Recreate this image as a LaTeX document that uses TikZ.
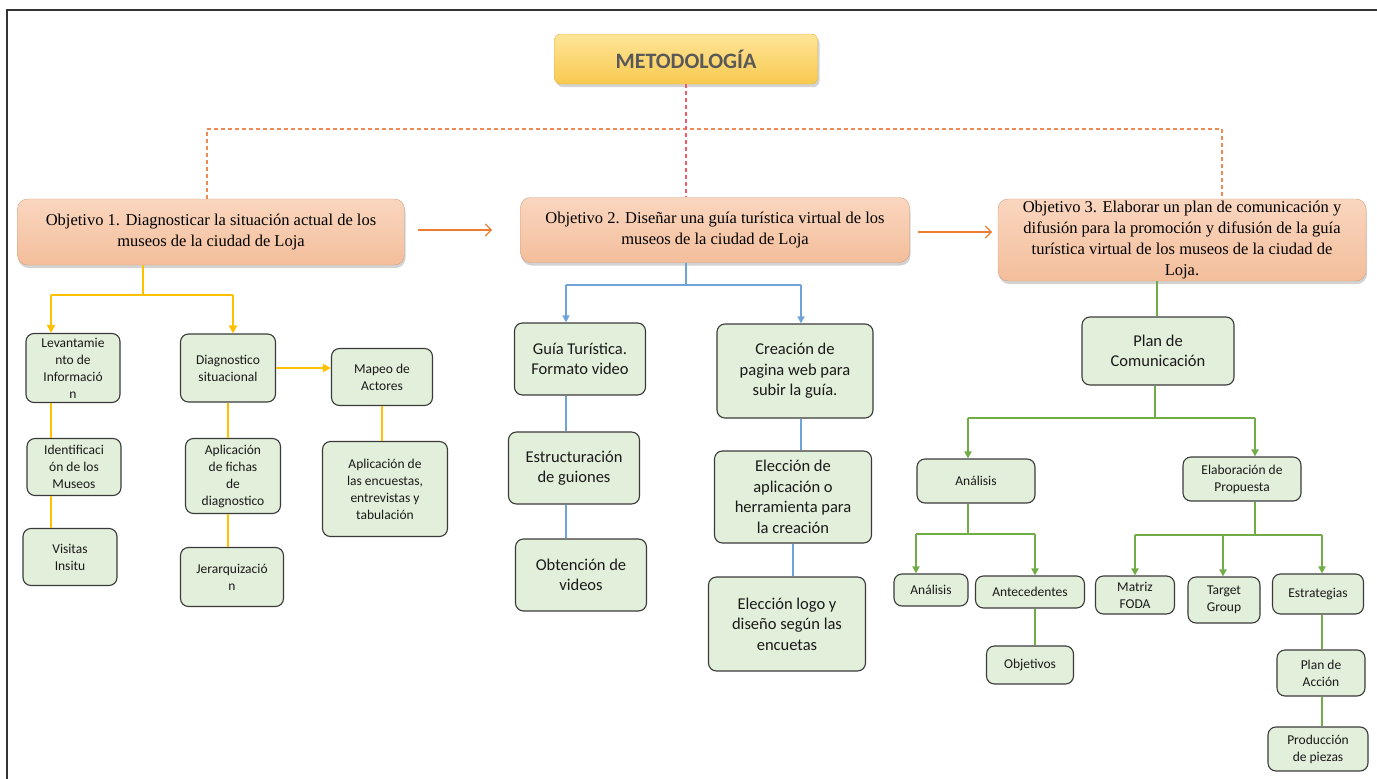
\documentclass[tikz,border=0pt]{standalone}
\usepackage{fontspec}
\setmainfont{Liberation Serif}
\newfontfamily\calfont{Carlito}
\usetikzlibrary{arrows.meta,shadows}
\definecolor{gfill}{HTML}{E2EFDA}
\definecolor{bordc}{HTML}{3A3A3A}
\definecolor{txtc}{HTML}{1A1A1A}
\definecolor{yelc}{HTML}{FFC000}
\definecolor{bluc}{HTML}{6FA3D8}
\definecolor{grnc}{HTML}{70AD47}
\definecolor{orac}{HTML}{ED7D31}
\definecolor{dashc}{HTML}{F08A55}
\definecolor{redc}{HTML}{F65A64}
\definecolor{objtop}{HTML}{FAD6BF}
\definecolor{objbot}{HTML}{F3BE9B}
\definecolor{titop}{HTML}{FFE599}
\definecolor{tibot}{HTML}{F8C94F}
\begin{document}
\begin{tikzpicture}[x=1pt,y=-1pt,
  gbox/.style={draw=bordc, line width=1.1pt, fill=gfill, rounded corners=8pt, align=center, inner sep=0pt, text=txtc},
  sm/.style={font=\calfont\fontsize{13.5}{17}\selectfont},
  md/.style={font=\calfont\fontsize{16.5}{20.5}\selectfont},
  objbox/.style={rounded corners=10pt, top color=objtop, bottom color=objbot, draw=objbot!85!black, line width=0.4pt,
    drop shadow={opacity=0.35,shadow xshift=1pt,shadow yshift=-3pt}, align=center, inner sep=0pt,
    font=\fontsize{16.5}{21}\selectfont},
  yl/.style={draw=yelc, line width=2pt},
  bl/.style={draw=bluc, line width=1.5pt},
  gl/.style={draw=grnc, line width=2pt},
  dl/.style={line width=1.1pt, dash pattern=on 4pt off 3pt},
  tipy/.style={-{Triangle[length=8pt,width=8pt]}},
  tipb/.style={-{Triangle[length=7pt,width=7pt]}},
]
\useasboundingbox (0,0) rectangle (1377,779);
\draw[line width=1.2pt, color=black!80] (7,779) -- (7,10) -- (1377,10);

% title
\node[rounded corners=6pt, top color=titop, bottom color=tibot, draw=tibot!90!black, line width=0.4pt,
  drop shadow={opacity=0.35,shadow xshift=2pt,shadow yshift=-3pt},
  minimum width=263, minimum height=50, inner sep=0pt, text=black!65,
  font=\calfont\bfseries\fontsize{22}{24}\selectfont] (title) at (686,59) {METODOLOGÍA};

% objectives
\node[objbox, minimum width=387, minimum height=66] (obj1) at (211,232)
  {Objetivo 1. Diagnosticar la situación actual de los\\museos de la ciudad de Loja};
\node[objbox, minimum width=389, minimum height=65] (obj2) at (715,230)
  {Objetivo 2. Diseñar una guía turística virtual de los\\museos de la ciudad de Loja};
\node[objbox, minimum width=368, minimum height=82] (obj3) at (1182,240)
  {Objetivo 3. Elaborar un plan de comunicación y\\difusión para la promoción y difusión de la guía\\turística virtual de los museos de la ciudad de\\Loja.};

% dashed links
\coordinate (h1) at (207,129);
\coordinate (h3) at (1222,129);
\draw[draw=dashc, dl] (obj1.north -| h1) -- (h1) -- (h3) -- (obj3.north -| h3);
\draw[draw=redc, dl] (title.south) -- (obj2.north -| title.south);

% objective arrows
\coordinate (a1s) at (418,230);
\coordinate (a1e) at (492,230);
\coordinate (a2s) at (918,232);
\coordinate (a2e) at (992,232);
\draw[draw=orac, line width=1.1pt, -{Straight Barb[length=6pt,width=12pt]}] (a1s) -- (a1e);
\draw[draw=orac, line width=1.1pt, -{Straight Barb[length=6pt,width=12pt]}] (a2s) -- (a2e);

% ---------- objective 1 subtree ----------
\node[gbox, sm, minimum width=94, minimum height=69] (lev) at (73,368) {Levantamie\\nto de\\Informació\\n};
\node[gbox, sm, minimum width=94, minimum height=57] (ident) at (74,467) {Identificaci\\ón de los\\Museos};
\node[gbox, sm, minimum width=94, minimum height=57] (visit) at (70,557) {Visitas\\Insitu};
\node[gbox, sm, minimum width=95, minimum height=68] (diag) at (228,368) {Diagnostico\\situacional};
\node[gbox, sm, minimum width=95, minimum height=75] (aplic) at (233,476) {Aplicación\\de fichas\\de\\diagnostico};
\node[gbox, sm, minimum width=103, minimum height=59] (jer) at (232,577) {Jerarquizació\\n};
\node[gbox, sm, minimum width=101, minimum height=57] (mapeo) at (382,377) {Mapeo de\\Actores};
\node[gbox, sm, minimum width=125, minimum height=95] (encu) at (385,489) {Aplicación de\\las encuestas,\\entrevistas y\\tabulación};

\coordinate (y0) at (143,295);
\coordinate (ya) at (51,295);
\coordinate (yb) at (233,295);
\draw[yl] (obj1.south -| y0) -- (y0);
\draw[yl] (ya) -- (yb);
\draw[yl, tipy] (ya) -- (lev.north -| ya);
\draw[yl, tipy] (yb) -- (diag.north -| yb);
\draw[yl] (lev.south -| ya) -- (ident.north -| ya);
\draw[yl] (ident.south -| ya) -- (visit.north -| ya);
\draw[yl] (diag.south) -- (aplic.north -| diag.south);
\draw[yl] (aplic.south -| diag.south) -- (jer.north -| diag.south);
\draw[yl, tipy] (diag.east) -- (mapeo.west |- diag.east);
\draw[yl] (mapeo.south) -- (encu.north -| mapeo.south);

% ---------- objective 2 subtree ----------
\node[gbox, md, minimum width=131, minimum height=72] (guia) at (580,359) {Guía Turística.\\Formato video};
\node[gbox, md, minimum width=131, minimum height=72] (estr) at (574,468) {Estructuración\\de guiones};
\node[gbox, md, minimum width=131, minimum height=72] (obte) at (581,575) {Obtención de\\videos};
\node[gbox, md, minimum width=156, minimum height=94] (crea) at (795,371) {Creación de\\pagina web para\\subir la guía.};
\node[gbox, md, minimum width=157, minimum height=92] (elec) at (793,497) {Elección de\\aplicación o\\herramienta para\\la creación};
\node[gbox, md, minimum width=157, minimum height=94] (logo) at (787,624) {Elección logo y\\diseño según las\\encuetas};

\coordinate (b0) at (686,285);
\coordinate (ba) at (566,285);
\coordinate (bb) at (801,285);
\draw[bl] (obj2.south -| b0) -- (b0);
\draw[bl] (ba) -- (bb);
\draw[bl, tipb] (ba) -- (guia.north -| ba);
\draw[bl, tipb] (bb) -- (crea.north -| bb);
\draw[bl] (guia.south -| ba) -- (estr.north -| ba);
\draw[bl] (estr.south -| ba) -- (obte.north -| ba);
\draw[bl] (crea.south -| bb) -- (elec.north -| bb);
\draw[bl] (elec.south) -- (logo.north -| elec.south);

% ---------- objective 3 subtree ----------
\node[gbox, md, minimum width=152, minimum height=68] (plan) at (1158,351) {Plan de\\Comunicación};
\node[gbox, sm, minimum width=118, minimum height=44] (anal) at (976,481) {Análisis};
\node[gbox, sm, minimum width=118, minimum height=44] (elab) at (1242,479) {Elaboración de\\Propuesta};
\node[gbox, sm, minimum width=74, minimum height=32] (anal2) at (931,590) {Análisis};
\node[gbox, sm, minimum width=109, minimum height=32] (ante) at (1030,592) {Antecedentes};
\node[gbox, sm, minimum width=87, minimum height=38] (objs) at (1030,665) {Objetivos};
\node[gbox, sm, minimum width=79, minimum height=38] (foda) at (1135,595) {Matriz\\FODA};
\node[gbox, sm, minimum width=72, minimum height=46] (targ) at (1224,600) {Target\\Group};
\node[gbox, sm, minimum width=91, minimum height=40] (estra) at (1318,594) {Estrategias};
\node[gbox, sm, minimum width=88, minimum height=46] (acc) at (1321,673) {Plan de\\Acción};
\node[gbox, sm, minimum width=100, minimum height=44] (prod) at (1318,749) {Producción\\de piezas};

\coordinate (g0) at (1157,300);
\draw[gl] (obj3.south -| g0) -- (plan.north -| g0);
\coordinate (g1) at (1155,418);
\coordinate (g1a) at (968,418);
\coordinate (g1b) at (1255,418);
\draw[gl] (plan.south -| g1) -- (g1);
\draw[gl] (g1a) -- (g1b);
\draw[gl, tipb] (g1a) -- (anal.north -| g1a);
\draw[gl, tipb] (g1b) -- (elab.north -| g1b);

\coordinate (g2) at (968,534);
\coordinate (g2a) at (916,534);
\coordinate (g2b) at (1035,534);
\draw[gl] (anal.south -| g2) -- (g2);
\draw[gl] (g2a) -- (g2b);
\draw[gl, tipb] (g2a) -- (anal2.north -| g2a);
\draw[gl, tipb] (g2b) -- (ante.north -| g2b);
\draw[gl] (ante.south -| g2b) -- (objs.north -| g2b);

\coordinate (g3) at (1255,535);
\coordinate (g3a) at (1135,535);
\coordinate (g3m) at (1223,535);
\coordinate (g3b) at (1322,535);
\draw[gl] (elab.south -| g3) -- (g3);
\draw[gl] (g3a) -- (g3b);
\draw[gl, tipb] (g3a) -- (foda.north -| g3a);
\draw[gl, tipb] (g3m) -- (targ.north -| g3m);
\draw[gl, tipb] (g3b) -- (estra.north -| g3b);
\draw[gl] (estra.south -| g3b) -- (acc.north -| g3b);
\draw[gl] (acc.south -| g3b) -- (prod.north -| g3b);
\end{tikzpicture}
\end{document}
